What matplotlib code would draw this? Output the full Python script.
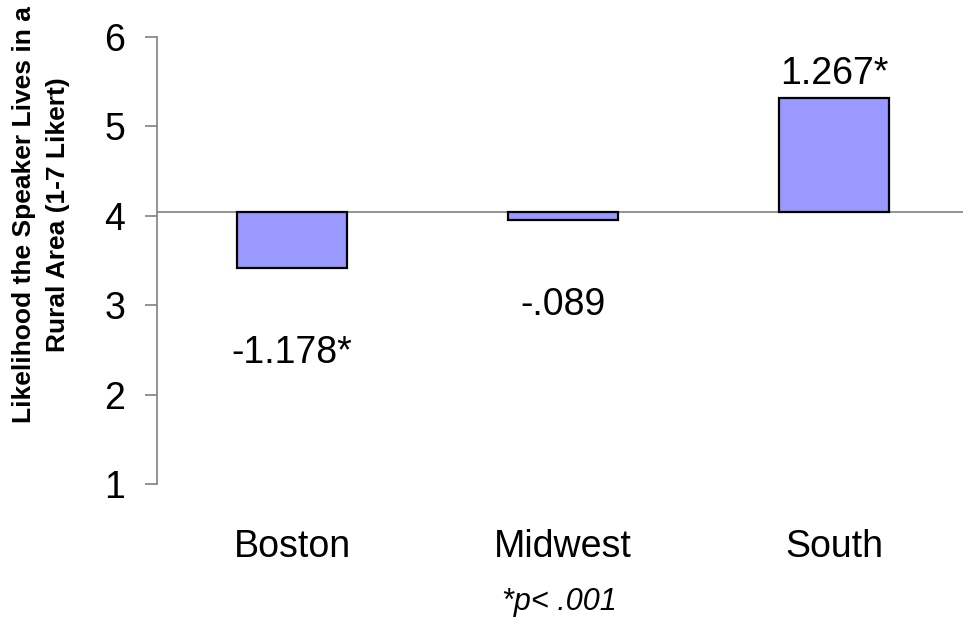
import numpy as np
import matplotlib
matplotlib.use('Agg')
import matplotlib.pyplot as plt

plt.rcParams['font.family'] = ['Liberation Sans', 'DejaVu Sans']

regions = ['Boston', 'Midwest', 'South']
means = [3.416, 3.952, 5.32]
baseline = 4.04
labels = ['-1.178*', '-.089', '1.267*']
yticks = [1, 2, 3, 4, 5, 6]

fig = plt.figure(figsize=(9.63, 6.19), dpi=100)
ax = fig.add_axes([156.5/963, 1-484.3/619, 1-156.5/963, (484.3-36.7)/619])

x = np.arange(len(regions))
heights = [m - baseline for m in means]
ax.bar(x, heights, bottom=baseline, width=0.406, color='#9999ff',
       edgecolor='black', linewidth=1.6, zorder=3)
ax.axhline(baseline, color='#808080', linewidth=1.2, zorder=2)

for i in range(len(regions)):
    if heights[i] < 0:
        off = -61
    else:
        off = 17
    ax.annotate(labels[i], (x[i], means[i]), xytext=(0, off), textcoords='offset points',
                ha='center', va='center', fontsize=27)

ax.set_xlim(-0.5, -0.5 + (963-156.5)/271)
ax.set_ylim(1, 6)
ax.set_yticks(yticks)
ax.set_xticks(x)
ax.set_xticklabels(regions)
for s in ['top', 'right', 'bottom']:
    ax.spines[s].set_visible(False)
ax.spines['left'].set_color('#808080')
ax.spines['left'].set_linewidth(1.2)
ax.tick_params(axis='y', length=8.5, width=1.2, color='#808080', labelsize=27, pad=14)
ax.tick_params(axis='x', length=0, labelsize=27, pad=32)
ax.set_xlabel('*p< .001', fontsize=22, style='italic', labelpad=16)

fig.text(41/963, 1-215/619, 'Likelihood the Speaker Lives in a\nRural Area (1-7 Likert)',
         rotation=90, ha='center', va='center', fontsize=19, fontweight='bold',
         multialignment='center', linespacing=1.55)

fig.savefig('out.png', dpi=100)
